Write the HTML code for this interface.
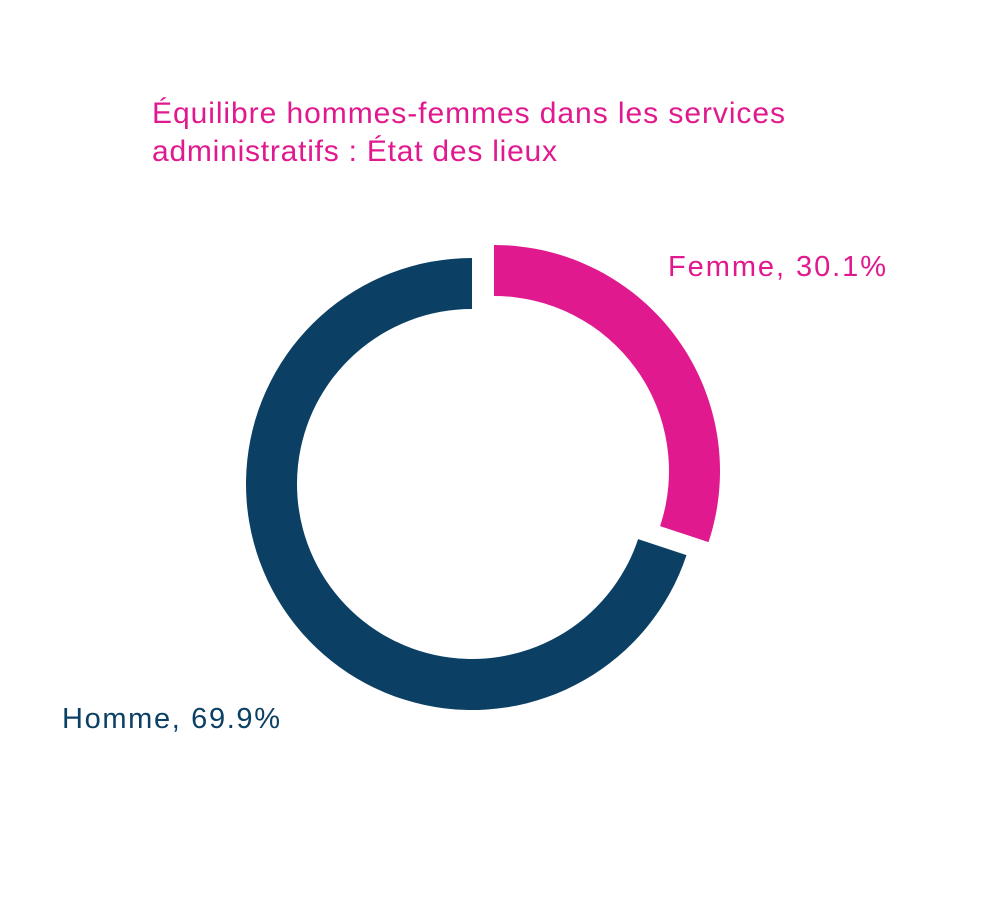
<!DOCTYPE html>
<html><head><meta charset="utf-8"><style>
html,body{margin:0;padding:0;background:#fff;}
svg{display:block;font-family:"Liberation Sans",sans-serif;}
</style></head><body>
<svg width="1006" height="919" viewBox="0 0 1006 919">
<text x="152" y="123" font-size="30" textLength="633" lengthAdjust="spacing" fill="#E0198F">Équilibre hommes-femmes dans les services</text>
<text x="152" y="161" font-size="30" textLength="405" lengthAdjust="spacing" fill="#E0198F">administratifs : État des lieux</text>
<g id="slices"></g>
<text x="668" y="276" font-size="29" textLength="218" lengthAdjust="spacing" fill="#E0198F">Femme, 30.1%</text>
<text x="62" y="728" font-size="29" textLength="218" lengthAdjust="spacing" fill="#0B4064">Homme, 69.9%</text>
</svg>
<script>
const categories = ["Femme","Homme"];
const values = [30.1, 69.9];
const colors = ["#E0198F","#0B4064"];
const centers = [[494,471],[472,484]];
const R = 226, r = 175;
const g = document.getElementById('slices');
const total = values.reduce((a,b)=>a+b,0);
let start = 0;
function pt(cx,cy,rad,a){return [cx+rad*Math.sin(a), cy-rad*Math.cos(a)];}
values.forEach((v,i)=>{
  const a0 = start/total*2*Math.PI, a1 = (start+v)/total*2*Math.PI;
  start += v;
  const [cx,cy] = centers[i];
  const large = (a1-a0)>Math.PI?1:0;
  const p1=pt(cx,cy,R,a0),p2=pt(cx,cy,R,a1),p3=pt(cx,cy,r,a1),p4=pt(cx,cy,r,a0);
  const p = document.createElementNS('http://www.w3.org/2000/svg','path');
  p.setAttribute('d',`M${p1[0]},${p1[1]} A${R},${R} 0 ${large} 1 ${p2[0]},${p2[1]} L${p3[0]},${p3[1]} A${r},${r} 0 ${large} 0 ${p4[0]},${p4[1]} Z`);
  p.setAttribute('fill',colors[i]);
  
  
  g.appendChild(p);
});
</script>
</body></html>
